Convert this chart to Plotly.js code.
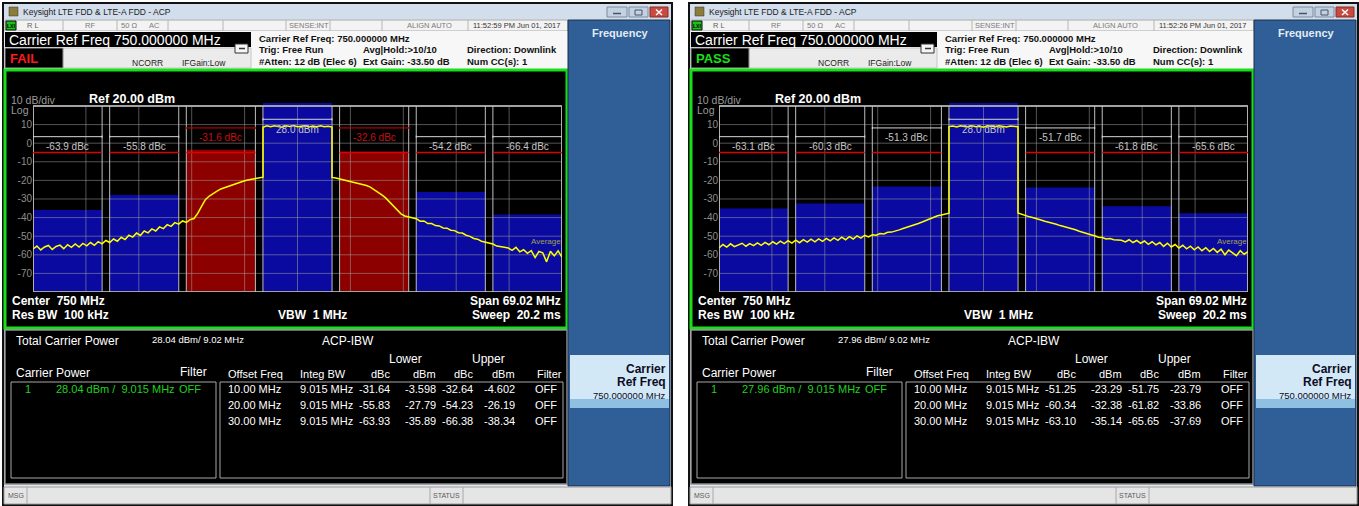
<!DOCTYPE html>
<html>
<head>
<meta charset="utf-8">
<title>LTE FDD ACP – FAIL / PASS</title>
<script src="https://cdn.plot.ly/plotly-3.0.1.min.js"></script>
<style>
  html, body { margin: 0; padding: 0; background: #ffffff; overflow: hidden; }
  #chart { width: 1359px; height: 506px; }
</style>
</head>
<body>
<div id="chart"></div>
<script>
// ---------------- Measurement setup ----------------
const carrierFreqMHz = 750;
const spanMHz = 69.02;
const integBwMHz = 9.015;
const totalBwLabel = '9.02 MHz';
const refLevelDbm = 20;
const dbPerDiv = 10;
const offsetFreqMHz = [10, 20, 30];
const limitDbm = -5;
const dbTicks = [10, 0, -10, -20, -30, -40, -50, -60, -70];
const sweepStepMHz = 0.5;
const lowerSkirtStartMHz = 715.5;
const carrierTopStartMHz = 745.5;
const upperSkirtStartMHz = 754.5;

// ---------------- FAIL measurement ----------------
const failTimestamp = '11:52:59 PM Jun 01, 2017';
const failCarrierDbm = 28.04;
const failLowerDbc = [-31.64, -55.83, -63.93];
const failLowerDbm = [-3.598, -27.79, -35.89];
const failUpperDbc = [-32.64, -54.23, -66.38];
const failUpperDbm = [-4.602, -26.19, -38.34];
const failLowerMarkDbc = [-31.6, -55.8, -63.9];
const failUpperMarkDbc = [-32.6, -54.2, -66.4];
const failLowerSkirt = [
  -56.9, -55.3, -57.4, -55.8, -55.0, -57.1, -55.5, -54.8, -56.7, -54.6,
  -56.0, -54.2, -55.8, -53.9, -55.2, -53.4, -54.9, -52.9, -54.1, -52.3,
  -53.4, -51.5, -52.7, -50.6, -51.8, -49.5, -50.5, -48.3, -49.6, -47.2,
  -48.2, -46.1, -47.2, -45.0, -45.9, -43.8, -44.7, -42.7, -43.5, -41.8,
  -42.6, -41.1, -40.5, -37.6, -33.8, -30.2, -28.4, -26.9, -25.8, -24.6,
  -23.9, -22.8, -22.3, -21.4, -21.0, -20.3, -19.8, -19.4, -18.9, -18.6,
  -18.3
];
const failCarrierTop = [
  8.6, 9.3, 8.8, 9.4, 8.9, 8.6, 9.3, 9.0, 9.5, 8.8,
  9.1, 9.4, 8.7, 9.2, 8.9, 9.4, 8.8, 9.1, 8.7
];
const failUpperSkirt = [
  -18.4, -18.7, -19.2, -19.5, -20.2, -20.6, -21.1, -21.5, -22.2, -22.8,
  -23.6, -24.9, -26.3, -27.8, -29.4, -31.5, -33.9, -36.2, -38.0, -39.1,
  -39.6, -40.5, -40.6, -41.9, -41.8, -43.2, -43.2, -44.3, -44.5, -45.6,
  -45.7, -46.8, -47.0, -48.1, -48.3, -49.5, -50.1, -51.2, -51.6, -52.7,
  -53.1, -53.6, -54.2, -55.3, -55.4, -55.9, -56.3, -57.6, -56.0, -58.4,
  -57.3, -59.2, -57.8, -61.5, -58.2, -58.9, -63.8, -58.1, -60.6, -57.9,
  -61.2
];

// ---------------- PASS measurement ----------------
const passTimestamp = '11:52:26 PM Jun 01, 2017';
const passCarrierDbm = 27.96;
const passLowerDbc = [-51.25, -60.34, -63.10];
const passLowerDbm = [-23.29, -32.38, -35.14];
const passUpperDbc = [-51.75, -61.82, -65.65];
const passUpperDbm = [-23.79, -33.86, -37.69];
const passLowerMarkDbc = [-51.3, -60.3, -63.1];
const passUpperMarkDbc = [-51.7, -61.8, -65.6];
const passLowerSkirt = [
  -56.3, -54.5, -55.9, -54.1, -55.6, -54.6, -53.8, -55.4, -54.0, -55.1,
  -53.6, -54.9, -53.3, -54.6, -53.0, -54.3, -52.7, -54.0, -52.4, -53.7,
  -52.1, -53.5, -51.9, -53.2, -51.6, -53.0, -51.5, -52.8, -51.2, -52.5,
  -50.9, -52.2, -50.5, -51.9, -50.2, -51.5, -49.8, -51.0, -49.5, -50.4,
  -49.2, -49.5, -48.6, -48.8, -47.9, -47.8, -47.0, -46.6, -45.9, -45.3,
  -44.6, -43.9, -43.2, -42.4, -41.5, -40.6, -39.9, -39.0, -38.6, -37.9,
  -37.6
];
const passCarrierTop = [
  8.9, 9.2, 8.7, 9.3, 9.0, 8.8, 9.4, 8.9, 9.1, 8.6,
  9.3, 9.0, 8.8, 9.4, 9.1, 8.7, 9.2, 8.9, 8.8
];
const passUpperSkirt = [
  -37.5, -38.3, -38.9, -39.6, -40.1, -40.9, -41.3, -42.0, -42.4, -43.2,
  -43.6, -44.3, -44.8, -45.4, -46.1, -46.5, -47.3, -47.8, -48.6, -49.2,
  -49.8, -50.6, -50.7, -51.5, -51.3, -51.9, -52.0, -52.2, -53.1, -51.9,
  -53.4, -52.3, -53.8, -52.6, -54.4, -53.0, -54.7, -53.4, -55.5, -53.8,
  -55.8, -54.5, -56.4, -54.9, -56.8, -55.4, -57.3, -55.8, -57.8, -56.2,
  -58.2, -56.6, -58.7, -57.0, -60.0, -57.5, -59.0, -60.5, -57.8, -59.7,
  -58.3
];

// ---------------- Page geometry helpers ----------------
const W = 1359, H = 506;
const FONT = '"Liberation Sans", Arial, sans-serif';
const fx = x => x / W;
const fy = y => 1 - y / H;

const traces = [];
const shapes = [];
const annotations = [];
const layout = {
  width: W, height: H,
  margin: { l: 0, r: 0, t: 0, b: 0, pad: 0 },
  paper_bgcolor: '#ffffff',
  plot_bgcolor: 'rgba(0,0,0,0)',
  showlegend: false,
  barmode: 'overlay',
  shapes, annotations
};

function rect(x0, y0, x1, y1, fill, stroke, lw) {
  shapes.push({
    type: 'rect', xref: 'paper', yref: 'paper', layer: 'below',
    x0: fx(x0), y0: fy(y0), x1: fx(x1), y1: fy(y1),
    fillcolor: fill,
    line: { color: stroke || 'rgba(0,0,0,0)', width: stroke ? (lw || 1) : 0 }
  });
}
function seg(x0, y0, x1, y1, color, lw) {
  shapes.push({
    type: 'line', xref: 'paper', yref: 'paper', layer: 'below',
    x0: fx(x0), y0: fy(y0), x1: fx(x1), y1: fy(y1),
    line: { color, width: lw || 1 }
  });
}
function text(x, y, s, size, color, anchor, bold) {
  annotations.push({
    xref: 'paper', yref: 'paper', x: fx(x), y: fy(y),
    text: bold ? '<b>' + s + '</b>' : s,
    showarrow: false, xanchor: anchor || 'left', yanchor: 'middle',
    borderpad: 0,
    font: { family: FONT, size, color }
  });
}

// ---------------- Instrument window ----------------
function drawWindow(ox, m) {
  // frame + title bar
  rect(ox + 3, 3, ox + 672, 505, '#dfe7f0', '#111111', 2);
  rect(ox + 4, 4, ox + 671, 19, '#d2deeb');
  rect(ox + 9, 7, ox + 18, 16, '#8c7b3e', '#3b3420', 0.5);
  text(ox + 22, 12, 'Keysight LTE FDD &amp; LTE-A FDD - ACP', 8.5, '#1c1c1c');
  rect(ox + 607, 7, ox + 627, 17, '#c4d1e0', '#7b8ba1', 1);
  rect(ox + 629, 7, ox + 648, 17, '#c4d1e0', '#7b8ba1', 1);
  rect(ox + 650, 7, ox + 668, 17, '#c84a40', '#8a2a22', 1);
  seg(ox + 613, 13.5, ox + 621, 13.5, '#44546c', 1.5);
  rect(ox + 635, 10, ox + 642, 15, 'rgba(0,0,0,0)', '#44546c', 1);
  seg(ox + 656, 9.5, ox + 662, 15, '#ffffff', 1.5);
  seg(ox + 662, 9.5, ox + 656, 15, '#ffffff', 1.5);

  // status row
  rect(ox + 5, 20, ox + 568, 31, '#f3f3f3', '#a8a8a8', 1);
  [63, 117, 168, 223, 286, 330, 382, 468].forEach(x => seg(ox + x, 20, ox + x, 31, '#b6b6b6', 1));
  rect(ox + 6, 21, ox + 16, 30, '#19c119', '#0a0a0a', 1);
  text(ox + 11, 25.5, 'LXI', 5, '#000000', 'center', true);
  text(ox + 26, 25.5, 'R L', 7.5, '#5e5e5e');
  text(ox + 84, 25.5, 'RF', 7.5, '#7a7a7a');
  text(ox + 120, 25.5, '50 Ω', 7.5, '#7a7a7a');
  text(ox + 148, 25.5, 'AC', 7.5, '#7a7a7a');
  text(ox + 288, 25.5, 'SENSE:INT', 7.5, '#7a7a7a');
  text(ox + 406, 25.5, 'ALIGN AUTO', 7.5, '#7a7a7a');
  text(ox + 472, 25.5, m.timestamp, 7.5, '#333333');

  // header
  rect(ox + 5, 31, ox + 568, 69, '#f7f7f7');
  rect(ox + 5, 32, ox + 251, 47, '#000000');
  text(ox + 8, 40, 'Carrier Ref Freq ' + carrierFreqMHz.toFixed(6) + ' MHz', 14, '#ffffff');
  rect(ox + 63, 48, ox + 251, 68, '#ebebeb', '#c6c6c6', 1);
  rect(ox + 5, 48, ox + 63, 68, '#000000', '#9a9a9a', 1);
  text(ox + 9, 58.5, m.verdict, 13, m.verdictColor, 'left', true);
  text(ox + 131, 63, 'NCORR', 8.5, '#222222');
  text(ox + 181, 63, 'IFGain:Low', 8.5, '#222222');
  rect(ox + 235, 44, ox + 248, 53, '#f6f6f6', '#333333', 1);
  seg(ox + 239, 48.5, ox + 245, 48.5, '#333333', 1.5);
  text(ox + 258, 38.5, 'Carrier Ref Freq: ' + carrierFreqMHz.toFixed(6) + ' MHz', 9.5, '#111111', 'left', true);
  text(ox + 258, 49.5, 'Trig: Free Run', 9.5, '#111111', 'left', true);
  text(ox + 362, 49.5, 'Avg|Hold:&gt;10/10', 9.5, '#111111', 'left', true);
  text(ox + 466, 49.5, 'Direction: Downlink', 9.5, '#111111', 'left', true);
  text(ox + 258, 61.5, '#Atten: 12 dB (Elec 6)', 9.5, '#111111', 'left', true);
  text(ox + 362, 61.5, 'Ext Gain: -33.50 dB', 9.5, '#111111', 'left', true);
  text(ox + 466, 61.5, 'Num CC(s): 1', 9.5, '#111111', 'left', true);

  // trace window
  rect(ox + 5, 70, ox + 567, 328, '#000000', '#18e018', 3);
  text(ox + 10, 100, dbPerDiv + ' dB/div', 10.5, '#9a9a9a');
  text(ox + 10, 110.5, 'Log', 10.5, '#9a9a9a');
  text(ox + 88, 99, 'Ref ' + refLevelDbm.toFixed(2) + ' dBm', 12.5, '#ffffff', 'left', true);
  text(ox + 11, 300.5, 'Center  ' + carrierFreqMHz + ' MHz', 12, '#ffffff', 'left', true);
  text(ox + 11, 315, 'Res BW  100 kHz', 12, '#ffffff', 'left', true);
  text(ox + 277, 315, 'VBW  1 MHz', 12, '#ffffff', 'left', true);
  text(ox + 562, 300.5, 'Span ' + spanMHz.toFixed(2) + ' MHz', 12, '#ffffff', 'right', true);
  text(ox + 562, 315, 'Sweep  20.2 ms', 12, '#ffffff', 'right', true);

  // result table
  rect(ox + 5, 330, ox + 567, 484, '#000000', '#8c8c8c', 1.5);
  text(ox + 15, 341, 'Total Carrier Power', 12, '#ffffff');
  text(ox + 151, 339, m.carrierDbm.toFixed(2) + ' dBm/ ' + totalBwLabel, 9.5, '#ffffff');
  text(ox + 321, 341, 'ACP-IBW', 12, '#ffffff');
  text(ox + 405, 359, 'Lower', 12, '#ffffff', 'center');
  text(ox + 488, 359, 'Upper', 12, '#ffffff', 'center');
  text(ox + 15, 373, 'Carrier Power', 12, '#ffffff');
  text(ox + 179, 372, 'Filter', 12, '#ffffff');
  text(ox + 227, 374, 'Offset Freq', 11, '#ffffff');
  text(ox + 299, 374, 'Integ BW', 11, '#ffffff');
  text(ox + 391, 374, 'dBc', 11, '#ffffff', 'right');
  text(ox + 437, 374, 'dBm', 11, '#ffffff', 'right');
  text(ox + 474, 374, 'dBc', 11, '#ffffff', 'right');
  text(ox + 516, 374, 'dBm', 11, '#ffffff', 'right');
  text(ox + 536, 374, 'Filter', 11, '#ffffff');
  rect(ox + 11, 382, ox + 216, 478, '#000000', '#a8a8a8', 1);
  rect(ox + 220, 382, ox + 563, 478, '#000000', '#a8a8a8', 1);
  text(ox + 24, 389, '1', 11, '#1fd21f');
  text(ox + 55, 389, m.carrierDbm.toFixed(2) + ' dBm /  ' + integBwMHz.toFixed(3) + ' MHz', 11, '#1fd21f');
  text(ox + 178, 389, 'OFF', 11, '#1fd21f');
  const rowY = [389, 405, 421];
  offsetFreqMHz.forEach((o, i) => {
    const y = rowY[i];
    text(ox + 227, y, o.toFixed(2) + ' MHz', 11, '#ffffff');
    text(ox + 299, y, integBwMHz.toFixed(3) + ' MHz', 11, '#ffffff');
    text(ox + 391, y, m.lowerDbc[i].toFixed(2), 11, '#ffffff', 'right');
    text(ox + 437, y, m.lowerDbm[i].toPrecision(4), 11, '#ffffff', 'right');
    text(ox + 474, y, m.upperDbc[i].toFixed(2), 11, '#ffffff', 'right');
    text(ox + 516, y, m.upperDbm[i].toPrecision(4), 11, '#ffffff', 'right');
    text(ox + 534, y, 'OFF', 11, '#ffffff');
  });

  // softkey panel
  rect(ox + 568, 20, ox + 670, 486, '#2f5f96', '#1a2e46', 1);
  text(ox + 620, 33, 'Frequency', 11, '#e4ebf4', 'center', true);
  rect(ox + 570, 355, ox + 669, 408, '#d3e8f7');
  rect(ox + 570, 399, ox + 669, 408, '#8fc0e2');
  text(ox + 667, 369, 'Carrier', 12, '#0c0c24', 'right', true);
  text(ox + 667, 382, 'Ref Freq', 12, '#0c0c24', 'right', true);
  text(ox + 667, 395, carrierFreqMHz.toFixed(6) + ' MHz', 9.5, '#0c0c24', 'right');

  // message bar
  rect(ox + 4, 487, ox + 671, 504, '#e5e5e5', '#9c9c9c', 1);
  seg(ox + 27, 487, ox + 27, 504, '#a8a8a8', 1);
  seg(ox + 430, 487, ox + 430, 504, '#a8a8a8', 1);
  seg(ox + 463, 487, ox + 463, 504, '#a8a8a8', 1);
  text(ox + 7, 495.5, 'MSG', 7, '#5a5a5a');
  text(ox + 432, 495.5, 'STATUS', 7, '#5a5a5a');
}

// ---------------- Spectrum + ACP bars ----------------
function drawSpectrum(ox, m, n) {
  const xa = 'x' + n, ya = 'y' + n;
  const f0 = carrierFreqMHz - spanMHz / 2, f1 = carrierFreqMHz + spanMHz / 2;
  const floorDbm = refLevelDbm - 10 * dbPerDiv;
  layout['xaxis' + n] = {
    domain: [fx(ox + 33), fx(ox + 562)], range: [f0, f1], anchor: ya,
    visible: false, fixedrange: true
  };
  layout['yaxis' + n] = {
    domain: [fy(292), fy(103)], range: [floorDbm, refLevelDbm + 1.6], anchor: xa,
    tickmode: 'array', tickvals: dbTicks, ticktext: dbTicks.map(v => String(v)),
    tickfont: { family: FONT, size: 10, color: '#8e8e8e' },
    ticks: '', showgrid: false, zeroline: false, showline: false, fixedrange: true
  };

  // segment layout: lower 30/20/10, carrier, upper 10/20/30
  const offs = offsetFreqMHz.slice().reverse().map(o => -o).concat([0], offsetFreqMHz);
  const centers = offs.map(o => carrierFreqMHz + o);
  const power = m.lowerDbm.slice().reverse().concat([m.carrierDbm], m.upperDbm);
  const marks = m.lowerMark.slice().reverse().concat([null], m.upperMark);
  const isCarrier = offs.map(o => o === 0);
  const failed = power.map((p, i) => !isCarrier[i] && p > limitDbm);

  traces.push({
    type: 'bar', xaxis: xa, yaxis: ya,
    x: centers, y: power.map(p => p - floorDbm), base: floorDbm,
    width: integBwMHz,
    marker: { color: failed.map(f => f ? '#8c0000' : '#0a0aa0'), line: { width: 0 } },
    hoverinfo: 'skip'
  });

  // graticule
  const gx = [], gy = [];
  for (let k = 1; k < 10; k++) {
    const x = f0 + k * spanMHz / 10;
    gx.push(x, x, null); gy.push(floorDbm, refLevelDbm, null);
  }
  dbTicks.forEach(v => { gx.push(f0, f1, null); gy.push(v, v, null); });
  traces.push({
    type: 'scatter', mode: 'lines', xaxis: xa, yaxis: ya, x: gx, y: gy,
    line: { color: 'rgba(165,165,165,0.5)', width: 1 }, hoverinfo: 'skip'
  });
  traces.push({
    type: 'scatter', mode: 'lines', xaxis: xa, yaxis: ya,
    x: [f0, f1, f1, f0, f0], y: [refLevelDbm, refLevelDbm, floorDbm, floorDbm, refLevelDbm],
    line: { color: '#a2a2a2', width: 2 }, hoverinfo: 'skip'
  });

  // integration-band edges and limit lines
  const ex = [], ey = [], lx = [], ly = [];
  centers.forEach((c, i) => {
    const a = c - integBwMHz / 2, b = c + integBwMHz / 2;
    ex.push(a, a, null, b, b, null);
    ey.push(floorDbm, refLevelDbm, null, floorDbm, refLevelDbm, null);
    if (!isCarrier[i]) { lx.push(a, b, null); ly.push(limitDbm, limitDbm, null); }
  });
  traces.push({
    type: 'scatter', mode: 'lines', xaxis: xa, yaxis: ya, x: ex, y: ey,
    line: { color: '#bdbdbd', width: 1 }, hoverinfo: 'skip'
  });
  traces.push({
    type: 'scatter', mode: 'lines', xaxis: xa, yaxis: ya, x: lx, y: ly,
    line: { color: '#e00000', width: 1.5 }, hoverinfo: 'skip'
  });

  // swept trace
  const sx = [], sy = [];
  const addPart = (start, vals) => vals.forEach((v, i) => { sx.push(start + i * sweepStepMHz); sy.push(v); });
  addPart(lowerSkirtStartMHz, m.lowerSkirt);
  addPart(carrierTopStartMHz, m.carrierTop);
  addPart(upperSkirtStartMHz, m.upperSkirt);
  traces.push({
    type: 'scatter', mode: 'lines', xaxis: xa, yaxis: ya, x: sx, y: sy,
    line: { color: '#ffff00', width: 1.5 }, hoverinfo: 'skip'
  });

  // bracket markers with their dBc / dBm readouts
  centers.forEach((c, i) => {
    const a = c - integBwMHz / 2, b = c + integBwMHz / 2;
    const near = Math.abs(offs[i]) === offsetFreqMHz[0];
    const level = isCarrier[i] ? 12.85 : (near ? 8.2 : 3.5);
    const txtLevel = isCarrier[i] ? 7.6 : (near ? 3.0 : -1.9);
    const col = failed[i] ? '#d40000' : '#d6d6d6';
    const tcol = failed[i] ? '#c81010' : '#c4c4c4';
    const mk = (x0, y0, x1, y1) => shapes.push({
      type: 'line', xref: xa, yref: ya, layer: 'above',
      x0, y0, x1, y1, line: { color: col, width: 1 }
    });
    mk(a, level, b, level);
    mk(a, level - 0.6, a, level + 0.6);
    mk(b, level - 0.6, b, level + 0.6);
    annotations.push({
      xref: xa, yref: ya, x: c, y: txtLevel, showarrow: false,
      xanchor: 'center', yanchor: 'middle', borderpad: 0,
      text: isCarrier[i] ? m.carrierDbm.toFixed(1) + ' dBm' : marks[i].toFixed(1) + ' dBc',
      font: { family: FONT, size: 10, color: tcol }
    });
  });
  annotations.push({
    xref: xa, yref: ya, x: f1, y: -52.6, showarrow: false,
    xanchor: 'right', yanchor: 'middle', borderpad: 0, text: 'Average',
    font: { family: FONT, size: 8, color: '#a0a050' }
  });
}

const failScreen = {
  timestamp: failTimestamp, verdict: 'FAIL', verdictColor: '#ff1a1a',
  carrierDbm: failCarrierDbm,
  lowerDbc: failLowerDbc, lowerDbm: failLowerDbm,
  upperDbc: failUpperDbc, upperDbm: failUpperDbm,
  lowerMark: failLowerMarkDbc, upperMark: failUpperMarkDbc,
  lowerSkirt: failLowerSkirt, carrierTop: failCarrierTop, upperSkirt: failUpperSkirt
};
const passScreen = {
  timestamp: passTimestamp, verdict: 'PASS', verdictColor: '#19e019',
  carrierDbm: passCarrierDbm,
  lowerDbc: passLowerDbc, lowerDbm: passLowerDbm,
  upperDbc: passUpperDbc, upperDbm: passUpperDbm,
  lowerMark: passLowerMarkDbc, upperMark: passUpperMarkDbc,
  lowerSkirt: passLowerSkirt, carrierTop: passCarrierTop, upperSkirt: passUpperSkirt
};

drawWindow(0, failScreen);
drawWindow(686, passScreen);
drawSpectrum(0, failScreen, '');
drawSpectrum(686, passScreen, '2');

Plotly.newPlot('chart', traces, layout, { staticPlot: true, displayModeBar: false });
</script>
</body>
</html>
